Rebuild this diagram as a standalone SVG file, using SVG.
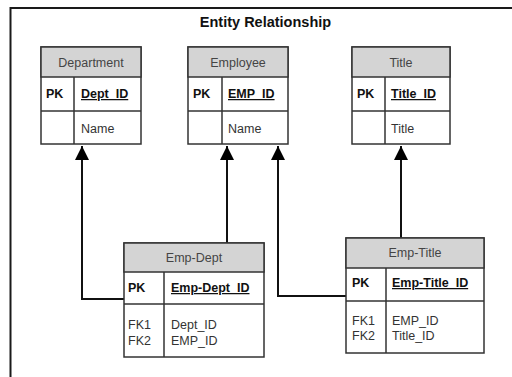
<svg xmlns="http://www.w3.org/2000/svg" width="512" height="377" viewBox="0 0 512 377">
  <style>
    .frame { fill: #fff; stroke: #1a1a1a; stroke-width: 2; }
    .box { fill: #fff; stroke: #333; stroke-width: 1.5; }
    .head { fill: #d4d4d4; stroke: #333; stroke-width: 1.5; }
    .sep { stroke: #333; stroke-width: 1.5; }
    .title { font-family: "Liberation Sans", Arial, sans-serif; font-size: 14.5px; font-weight: bold; fill: #111; text-anchor: middle; }
    .hd { font-family: "Liberation Sans", Arial, sans-serif; font-size: 12.5px; fill: #444; text-anchor: middle; }
    .pk { font-family: "Liberation Sans", Arial, sans-serif; font-size: 12.5px; font-weight: bold; fill: #111; }
    .key { font-family: "Liberation Sans", Arial, sans-serif; font-size: 12.5px; font-weight: bold; fill: #111; text-decoration: underline; }
    .at { font-family: "Liberation Sans", Arial, sans-serif; font-size: 12.5px; fill: #333; }
    .conn { fill: none; stroke: #111; stroke-width: 2; }
  </style>
  <defs>
    <marker id="arrow" markerUnits="userSpaceOnUse" markerWidth="14" markerHeight="15" refX="14" refY="7" orient="auto">
      <path d="M0,0 L14,7 L0,14 Z" fill="#000"/>
    </marker>
  </defs>

  <rect width="512" height="377" fill="#fff"/>
  <rect class="frame" x="10.5" y="8" width="520" height="390"/>
  <text class="title" x="265.5" y="27">Entity Relationship</text>

  <g id="connectors">
    <path class="conn" d="M124,299 H82 V146" marker-end="url(#arrow)"/>
    <path class="conn" d="M227,243 V146" marker-end="url(#arrow)"/>
    <path class="conn" d="M346,296 H278 V146" marker-end="url(#arrow)"/>
    <path class="conn" d="M401,238 V146" marker-end="url(#arrow)"/>
  </g>

  <g id="department">
    <rect class="box" x="41" y="47" width="100" height="97"/>
    <rect class="head" x="41" y="47" width="100" height="30"/>
    <line class="sep" x1="41" y1="111" x2="141" y2="111"/>
    <line class="sep" x1="74" y1="77" x2="74" y2="144"/>
    <text class="hd" x="91" y="66.5">Department</text>
    <text class="pk" x="46" y="98">PK</text>
    <text class="key" x="81" y="98">Dept_ID</text>
    <text class="at" x="81" y="133">Name</text>
  </g>

  <g id="employee">
    <rect class="box" x="188" y="47" width="100" height="97"/>
    <rect class="head" x="188" y="47" width="100" height="30"/>
    <line class="sep" x1="188" y1="111" x2="288" y2="111"/>
    <line class="sep" x1="222" y1="77" x2="222" y2="144"/>
    <text class="hd" x="238" y="66.5">Employee</text>
    <text class="pk" x="193" y="98">PK</text>
    <text class="key" x="228" y="98">EMP_ID</text>
    <text class="at" x="228" y="133">Name</text>
  </g>

  <g id="title">
    <rect class="box" x="352" y="47" width="98" height="97"/>
    <rect class="head" x="352" y="47" width="98" height="30"/>
    <line class="sep" x1="352" y1="111" x2="450" y2="111"/>
    <line class="sep" x1="385" y1="77" x2="385" y2="144"/>
    <text class="hd" x="401" y="66.5">Title</text>
    <text class="pk" x="357" y="98">PK</text>
    <text class="key" x="391" y="98">Title_ID</text>
    <text class="at" x="391" y="133">Title</text>
  </g>

  <g id="emp-dept">
    <rect class="box" x="124" y="243" width="140" height="114"/>
    <rect class="head" x="124" y="243" width="140" height="29"/>
    <line class="sep" x1="124" y1="304" x2="264" y2="304"/>
    <line class="sep" x1="164" y1="272" x2="164" y2="357"/>
    <text class="hd" x="194" y="262">Emp-Dept</text>
    <text class="pk" x="128" y="292">PK</text>
    <text class="key" x="171" y="292">Emp-Dept_ID</text>
    <text class="at" x="128" y="329">FK1</text>
    <text class="at" x="128" y="345">FK2</text>
    <text class="at" x="171" y="329">Dept_ID</text>
    <text class="at" x="171" y="345">EMP_ID</text>
  </g>

  <g id="emp-title">
    <rect class="box" x="346" y="238" width="138" height="115"/>
    <rect class="head" x="346" y="238" width="138" height="30"/>
    <line class="sep" x1="346" y1="301" x2="484" y2="301"/>
    <line class="sep" x1="386" y1="268" x2="386" y2="353"/>
    <text class="hd" x="415" y="257">Emp-Title</text>
    <text class="pk" x="352" y="287">PK</text>
    <text class="key" x="392" y="287">Emp-Title_ID</text>
    <text class="at" x="352" y="325">FK1</text>
    <text class="at" x="352" y="340">FK2</text>
    <text class="at" x="392" y="325">EMP_ID</text>
    <text class="at" x="392" y="340">Title_ID</text>
  </g>
</svg>
